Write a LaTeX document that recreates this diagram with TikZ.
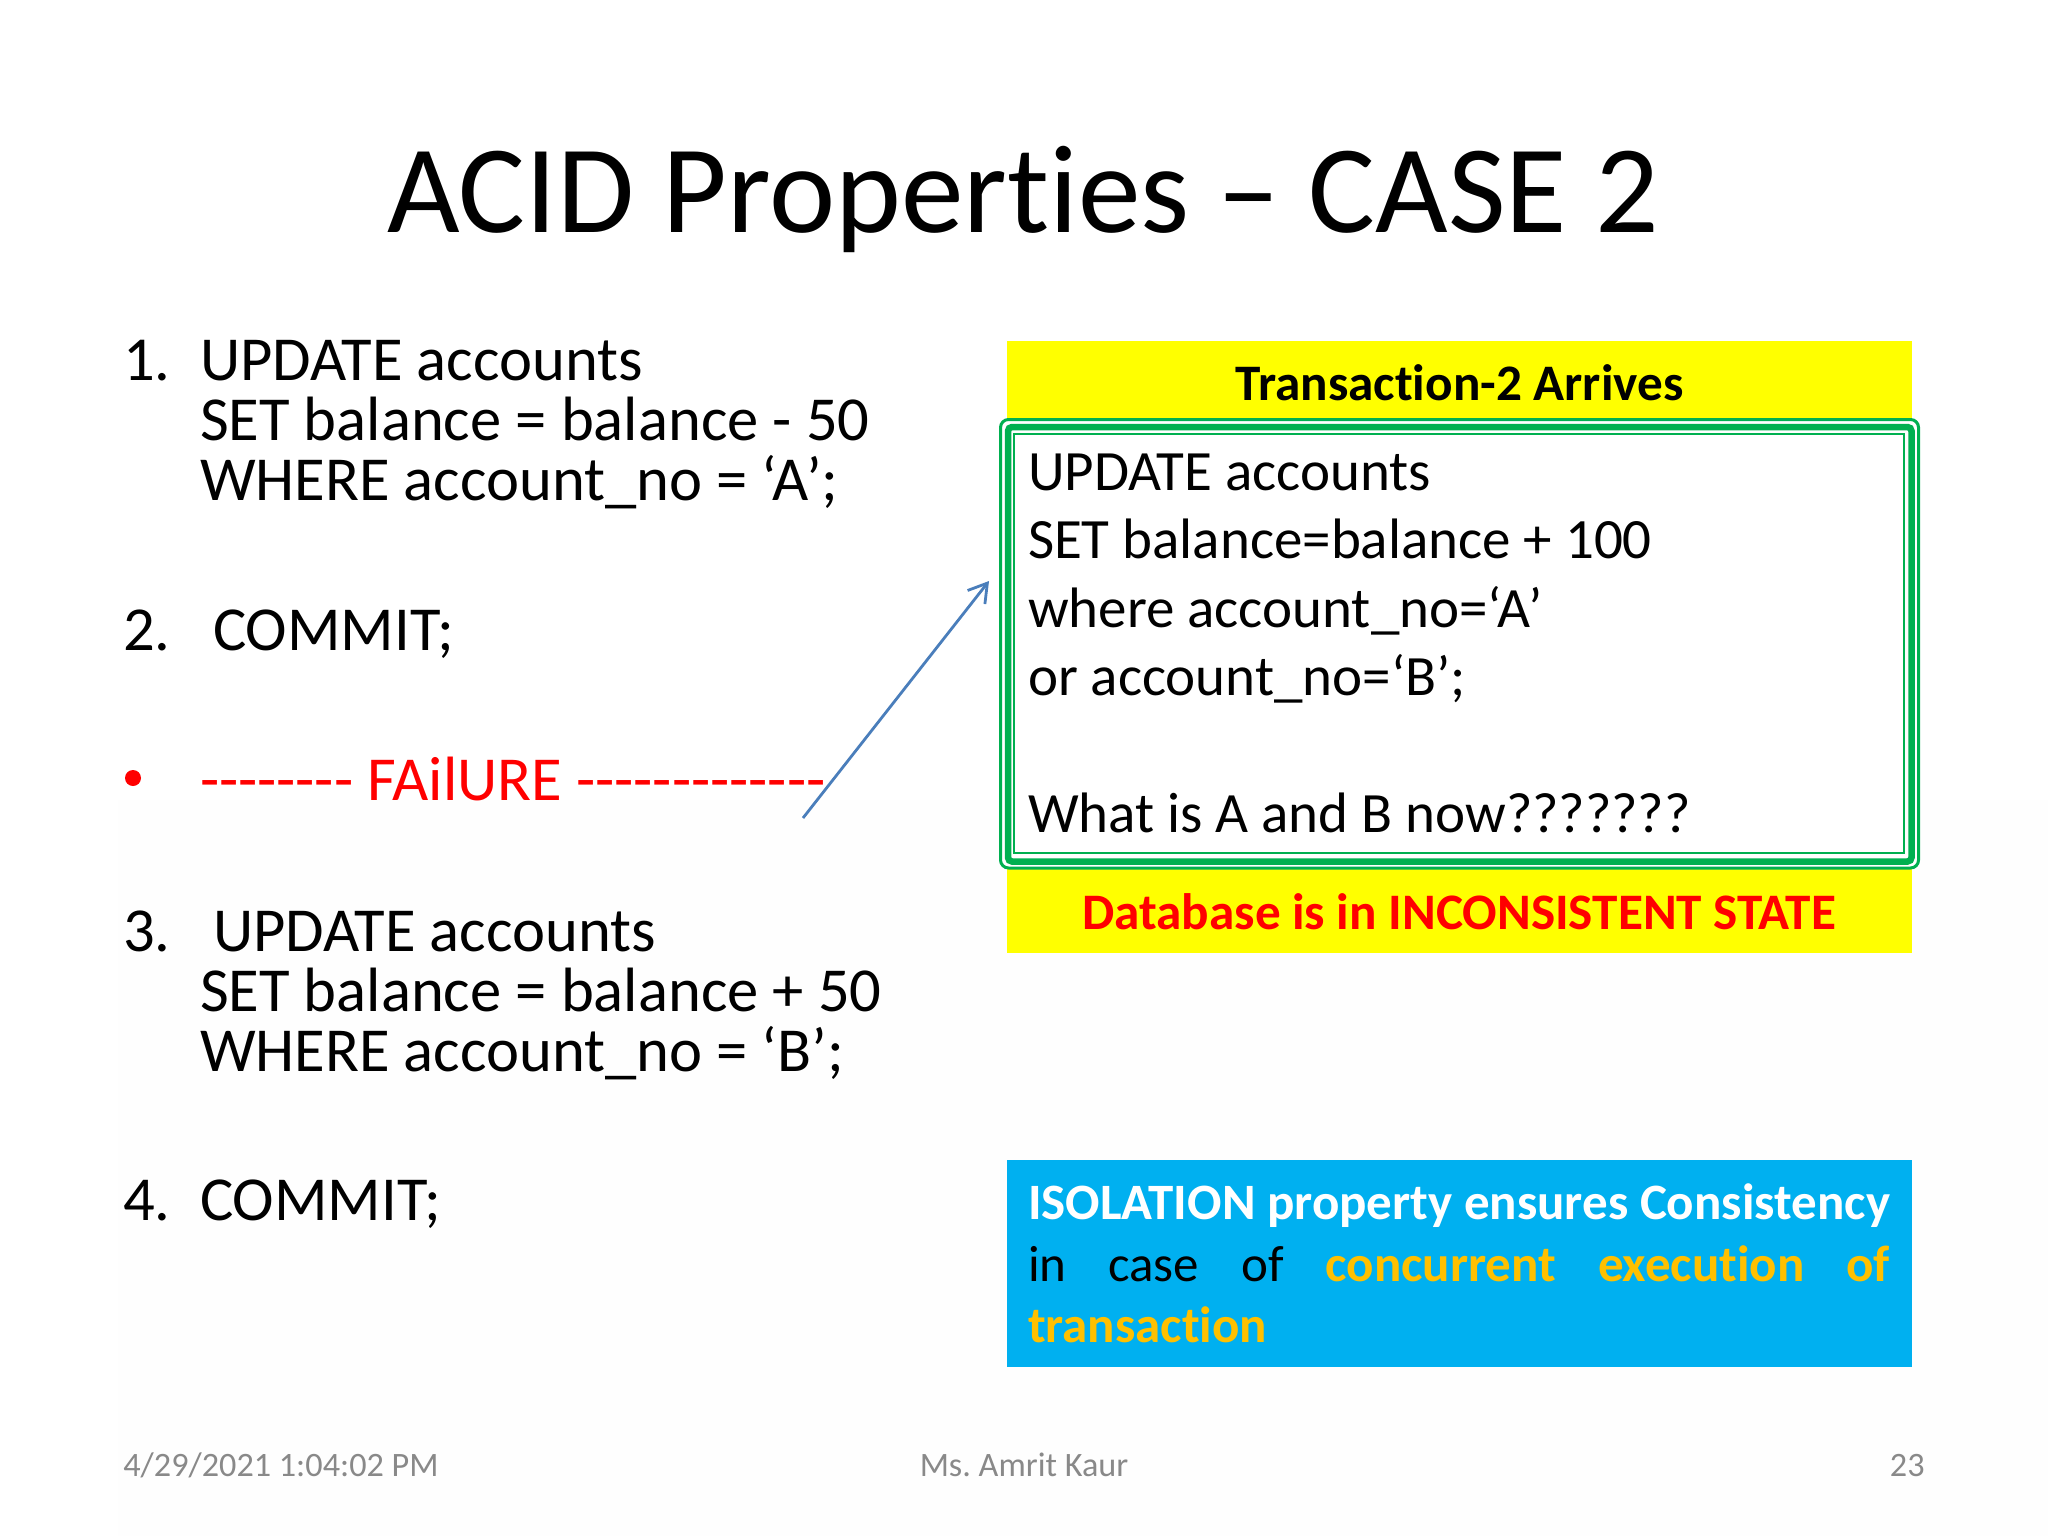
\documentclass[tikz,border=0pt]{standalone}
\usepackage{fontspec}
\newfontfamily\plainfont[Ligatures=NoCommon]{Carlito}
\setmainfont[Ligatures=NoCommon]{Carlito}
\usetikzlibrary{arrows.meta}
\definecolor{grn}{HTML}{00B050}
\definecolor{blu}{HTML}{00B0F0}
\definecolor{org}{HTML}{FFC000}
\definecolor{arr}{HTML}{4A7EBB}
\definecolor{foot}{HTML}{898989}
\definecolor{yel}{HTML}{FFFF00}
\definecolor{rd}{HTML}{FF0000}
\definecolor{tint}{HTML}{FEFEFE}
\tikzset{
 x=0.5pt,y=-0.5pt,
 txt/.style={inner sep=0pt,outer sep=0pt,anchor=base west,align=left,text=black},
 body/.style={txt,font=\plainfont\fontsize{31.3pt}{30pt}\selectfont},
 box/.style={txt,font=\plainfont\fontsize{28.5pt}{34.2pt}\selectfont},
 head/.style={inner sep=0pt,anchor=base,font=\plainfont\bfseries\fontsize{25.6pt}{28pt}\selectfont},
 iso/.style={txt,font=\plainfont\fontsize{25.5pt}{28pt}\selectfont},
 foottxt/.style={inner sep=0pt,text=foot,font=\plainfont\frenchspacing\fontsize{17.1pt}{18pt}\selectfont},
}
\begin{document}
\begin{tikzpicture}
\useasboundingbox (0,0) rectangle (2048,1536);
\fill[white] (0,0) rectangle (2048,1536);
\fill[tint] (118,800) rectangle (2048,1536);
\node[inner sep=0pt,anchor=base,font=\plainfont\fontsize{62.7pt}{64pt}\selectfont] (title) at (1023,232) {ACID Properties – CASE 2};

\node[body] (n1) at (123,380) {1.};
\node[body] (s1) at (200,500) {UPDATE accounts\\SET balance = balance - 50\\WHERE account\_no = ‘A’;};
\node[body] (n2) at (123,650) {2.};
\node[body] (s2) at (213,650) {COMMIT;};
\fill[rd] (133,778) circle (8);
\node[body,text=rd] (fail) at (200,800) {-------- FAilURE -------------};
\node[body] (n3) at (123,951) {3.};
\node[body] (s3) at (213,951) {UPDATE accounts};
\node[body] (s3b) at (200,1071) {SET balance = balance + 50\\WHERE account\_no = ‘B’;};
\node[body] (n4) at (123,1220) {4.};
\node[body] (s4) at (200,1220) {COMMIT;};

\fill[yel] (1007,341) rectangle (1911.5,953);
\node[head] (t2) at (1459.5,400) {Transaction-2 Arrives};
\node[head,text=rd] (db) at (1459,929) {Database is in INCONSISTENT STATE};
\fill[white] (1000,420) rectangle (1918,868);
\draw[grn,line width=1.5pt,rounded corners=4pt] (1000.5,419.5) rectangle (1918.5,868);
\draw[grn,line width=3.25pt,rounded corners=2pt] (1008,427) rectangle (1911.5,861.5);
\draw[grn,line width=1.25pt] (1014,434) rectangle (1904,853);
\node[box] (q) at (1028,832.5) {UPDATE accounts\\SET balance=balance + 100\\where account\_no=‘A’\\or account\_no=‘B’;\\[34.2pt]What is A and B now???????};

\fill[blu] (1007,1160) rectangle (1911.5,1367);
\node[iso,text=white] (i1) at (1028,1219) {\makebox[431pt][s]{\bfseries ISOLATION property ensures Consistency}};
\node[iso] (i2) at (1028,1281) {\makebox[431pt][s]{in\hfill case\hfill of\hfill \textcolor{org}{\bfseries concurrent}\hfill \textcolor{org}{\bfseries execution}\hfill \textcolor{org}{\bfseries of}}};
\node[iso,text=org] (i3) at (1028,1342) {\bfseries transaction};

\node[foottxt,anchor=base west] (f1) at (123,1476) {4/29/2021 1:04:02 PM};
\node[foottxt,anchor=base] (f2) at (1024,1476) {Ms. Amrit Kaur};
\node[foottxt,anchor=base east] (f3) at (1925,1476) {23};

\coordinate (a) at (803,818);
\coordinate (b) at (989,581);
\draw[arr,line width=1.4pt,-{Straight Barb[length=9pt,width=11pt,line width=1.4pt]}] (a) -- (b);
\end{tikzpicture}
\end{document}
